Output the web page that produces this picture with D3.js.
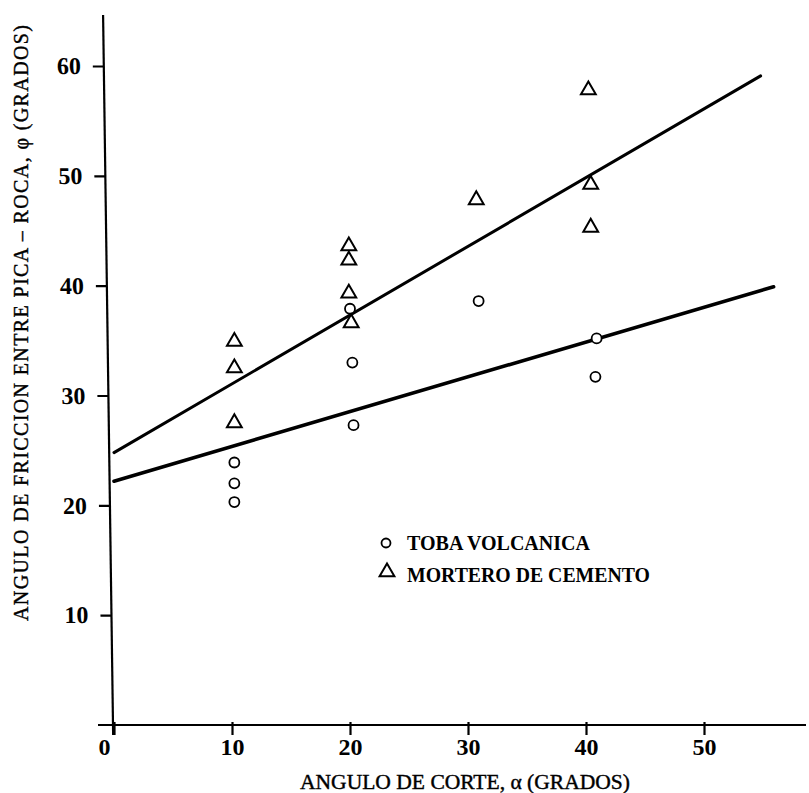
<!DOCTYPE html>
<html>
<head>
<meta charset="utf-8">
<script src="https://cdn.jsdelivr.net/npm/d3@7"></script>
<style>
  body { margin: 0; background: #fff; }
  svg { display: block; }
  text { font-family: 'Liberation Serif', 'Times New Roman', Times, serif; fill: #000; }
  .axis text { font-size: 24px; font-weight: bold; }
  .axis line { stroke: #000; stroke-width: 2.2; }
</style>
</head>
<body>
<svg id="chart" width="809" height="793"></svg>
<script>
// tick labels
const xTicks = [0, 10, 20, 30, 40, 50];
const yTicks = [10, 20, 30, 40, 50, 60];

// toba volcanica (circles)
const tobaX = [10.2, 10.2, 10.2, 20.0, 20.2, 20.3, 30.9, 40.9, 40.8];
const tobaY = [23.9, 22.0, 20.3, 37.9, 33.0, 27.3, 38.6, 35.2, 31.7];

// mortero de cemento (triangles)
const morteroX = [10.2, 10.2, 10.2, 19.9, 19.9, 19.9, 20.1, 30.7, 40.2, 40.4, 40.4];
const morteroY = [35.0, 32.6, 27.6, 43.7, 42.4, 39.4, 36.7, 47.9, 57.9, 49.3, 45.4];

// fitted lines: start and end values
const fitNames = ['mortero', 'toba'];
const fitX0 = [0, 0];
const fitY0 = [24.8, 22.2];
const fitX1 = [54.8, 55.9];
const fitY1 = [59.1, 39.9];

const legendLabels = ['TOBA VOLCANICA', 'MORTERO DE CEMENTO'];

const svg = d3.select('#chart');
const x = d3.scaleLinear().domain([0, 50]).range([114, 704]);
const y = d3.scaleLinear().domain([0, 60]).range([725, 66]);

// scanned axis leans slightly to the left at the top
const skew = `translate(0,${y(0)}) skewX(0.8) translate(0,${-y(0)})`;

// x axis
const gx = svg.append('g')
  .attr('class', 'axis axis-x')
  .attr('transform', `translate(0,${y(0)})`)
  .call(d3.axisBottom(x).tickValues(xTicks).tickSize(10).tickPadding(3));
gx.select('.domain').remove();
gx.selectAll('.tick line').attr('y1', -3);
gx.selectAll('.tick text').filter(d => d === 0).attr('dx', -10);
gx.append('line')
  .attr('x1', x(0) - 16).attr('x2', 806)
  .attr('y1', 0).attr('y2', 0)
  .attr('stroke', '#000').attr('stroke-width', 2.2);

// y axis
const gyWrap = svg.append('g').attr('transform', skew);
const gy = gyWrap.append('g')
  .attr('class', 'axis axis-y')
  .attr('transform', `translate(${x(0) - 1},0)`)
  .call(d3.axisLeft(y).tickValues(yTicks).tickSize(11).tickPadding(12));
gy.select('.domain').remove();
gy.append('line')
  .attr('x1', 0).attr('x2', 0)
  .attr('y1', 15).attr('y2', y(0) + 10)
  .attr('stroke', '#000').attr('stroke-width', 2.4);

// fitted lines
const fits = fitNames.map((n, i) => ({ name: n, x0: fitX0[i], y0: fitY0[i], x1: fitX1[i], y1: fitY1[i] }));
svg.append('g').selectAll('line')
  .data(fits)
  .join('line')
  .attr('x1', d => x(d.x0)).attr('y1', d => y(d.y0))
  .attr('x2', d => x(d.x1)).attr('y2', d => y(d.y1))
  .attr('stroke', '#000')
  .attr('stroke-width', d => (d.name === 'toba' ? 3.6 : 3))
  .attr('stroke-linecap', 'round');

// points
const toba = tobaX.map((v, i) => ({ x: v, y: tobaY[i] }));
const mortero = morteroX.map((v, i) => ({ x: v, y: morteroY[i] }));
const tri = d3.symbol().type(d3.symbolTriangle).size(95);

svg.append('g').selectAll('circle')
  .data(toba)
  .join('circle')
  .attr('cx', d => x(d.x)).attr('cy', d => y(d.y))
  .attr('r', 5)
  .attr('fill', '#fff').attr('stroke', '#000').attr('stroke-width', 1.8);

svg.append('g').selectAll('path')
  .data(mortero)
  .join('path')
  .attr('d', tri)
  .attr('transform', d => `translate(${x(d.x)},${y(d.y) + 1})`)
  .attr('fill', 'none').attr('stroke', '#000').attr('stroke-width', 2);

// legend
const legend = svg.append('g').attr('transform', 'translate(386,543)');
legend.append('circle')
  .attr('cx', 0).attr('cy', 0).attr('r', 4.5)
  .attr('fill', '#fff').attr('stroke', '#000').attr('stroke-width', 1.8);
legend.append('path')
  .attr('d', tri)
  .attr('transform', 'translate(1,29)')
  .attr('fill', 'none').attr('stroke', '#000').attr('stroke-width', 2);
legend.selectAll('text')
  .data(legendLabels)
  .join('text')
  .attr('x', 21)
  .attr('y', (d, i) => 7 + i * 32)
  .attr('font-size', 20)
  .attr('font-weight', 'bold')
  .attr('textLength', (d, i) => (i === 0 ? 183 : 243))
  .attr('lengthAdjust', 'spacingAndGlyphs')
  .text(d => d);

// axis titles
svg.append('text')
  .attr('x', 465).attr('y', 789)
  .attr('text-anchor', 'middle')
  .attr('font-size', 20)
  .attr('stroke', '#000').attr('stroke-width', 0.4)
  .attr('textLength', 330).attr('lengthAdjust', 'spacingAndGlyphs')
  .text('ANGULO DE CORTE, α (GRADOS)');

svg.append('text')
  .attr('transform', 'translate(28,323) rotate(-90)')
  .attr('text-anchor', 'middle')
  .attr('font-size', 20)
  .attr('stroke', '#000').attr('stroke-width', 0.4)
  .attr('textLength', 596).attr('lengthAdjust', 'spacing')
  .text('ANGULO DE FRICCION ENTRE PICA – ROCA, φ  (GRADOS)');
</script>
</body>
</html>
